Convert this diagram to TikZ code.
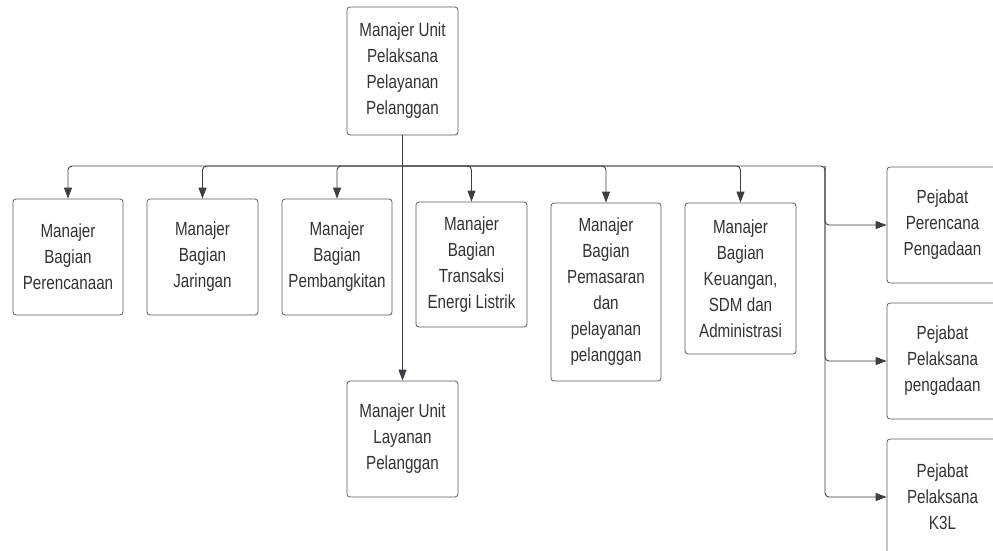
\documentclass[tikz,border=0pt]{standalone}
\usepackage{fontspec}
\setmainfont[FakeStretch=0.8]{Liberation Sans}
\usetikzlibrary{arrows.meta}
\definecolor{lnc}{HTML}{3C3F44}
\definecolor{bxc}{HTML}{5A5A5A}
\definecolor{txc}{HTML}{333333}
\begin{document}
\begin{tikzpicture}[x=1pt,y=-1pt,
  box/.style={draw=bxc, line width=0.8pt, rounded corners=3pt, fill=white, align=center, text=txc, font=\fontsize{19}{26}\selectfont, inner sep=0pt},
  conn/.style={draw=lnc, line width=0.9pt},
  arr/.style={conn, -{Triangle[length=11pt,width=8pt]}}
]
\useasboundingbox (0,0) rectangle (993,551);
\clip (0,0) rectangle (993,551);

\node[box, minimum width=111pt, minimum height=128pt] (top) at (402.5,71) {Manajer Unit\\Pelaksana\\Pelayanan\\Pelanggan};

\node[box, minimum width=110pt, minimum height=116pt] (b1) at (68,257) {Manajer\\Bagian\\Perencanaan};
\node[box, minimum width=111pt, minimum height=116pt] (b2) at (202.5,257) {Manajer\\Bagian\\Jaringan};
\node[box, minimum width=110pt, minimum height=116pt] (b3) at (337,257) {Manajer\\Bagian\\Pembangkitan};
\node[box, minimum width=111pt, minimum height=125pt] (b4) at (471.5,264.5) {Manajer\\Bagian\\Transaksi\\Energi Listrik};
\node[box, minimum width=110pt, minimum height=178pt] (b5) at (606,292) {Manajer\\Bagian\\Pemasaran\\dan\\pelayanan\\pelanggan};
\node[box, minimum width=111pt, minimum height=151pt] (b6) at (740.5,278.5) {Manajer\\Bagian\\Keuangan,\\SDM dan\\Administrasi};

\node[box, minimum width=111pt, minimum height=116pt] (ulp) at (402.5,439) {Manajer Unit\\Layanan\\Pelanggan};

\node[box, minimum width=111pt, minimum height=116pt] (pa) at (942.5,225) {Pejabat\\Perencana\\Pengadaan};
\node[box, minimum width=111pt, minimum height=116pt] (pb) at (942.5,361) {Pejabat\\Pelaksana\\pengadaan};
\node[box, minimum width=111pt, minimum height=116pt] (pc) at (942.5,497) {Pejabat\\Pelaksana\\K3L};

\coordinate (j) at (402.5,166);
\coordinate (rt) at (825,166);

\draw[arr] (top.south) -- (ulp.north);
\draw[arr, rounded corners=4pt] (j) -| (b1.north);
\draw[arr, rounded corners=4pt] (j) -| (b2.north);
\draw[arr, rounded corners=4pt] (j) -| (b3.north);
\draw[arr, rounded corners=4pt] (j) -| (b4.north);
\draw[arr, rounded corners=4pt] (j) -| (b5.north);
\draw[arr, rounded corners=4pt] (j) -| (b6.north);
\draw[arr, rounded corners=4pt] (j) -- (rt) |- (pa.west);
\draw[arr, rounded corners=4pt] (rt) |- (pb.west);
\draw[arr, rounded corners=4pt] (rt) |- (pc.west);
\end{tikzpicture}
\end{document}
